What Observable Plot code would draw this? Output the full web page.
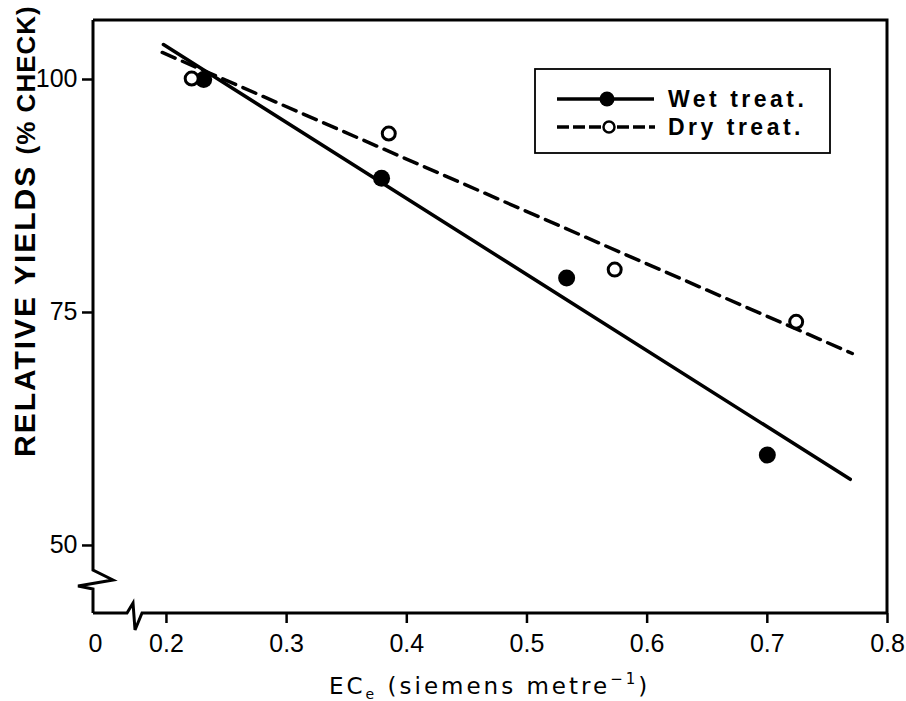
<!DOCTYPE html>
<html><head><meta charset="utf-8">
<script src="https://cdn.jsdelivr.net/npm/d3@7"></script>
<script src="https://cdn.jsdelivr.net/npm/@observablehq/plot@0.6"></script>
<style>body{margin:0;background:#fff}</style>
</head><body><div id="chart"></div>
<script>
// ---- data ----
const wetEC = [0.231, 0.379, 0.533, 0.700];
const wetYield = [100.0, 89.4, 78.7, 59.7];
const dryEC = [0.221, 0.385, 0.573, 0.724];
const dryYield = [100.1, 94.2, 79.6, 74.0];
// fitted regression lines (end points)
const wetFitEC = [0.1975, 0.769];
const wetFitYield = [103.75, 57.1];
const dryFitEC = [0.1965, 0.7707];
const dryFitYield = [102.9, 70.6];
// axes
const xTicks = [0.2, 0.3, 0.4, 0.5, 0.6, 0.7, 0.8];
const yTicks = [50, 75, 100];
const xDomain = [0.1393, 0.8];
const yDomain = [42.7, 106.33];
const xOriginLabel = "0";
const xBreakAt = 0.1726;
const yBreakAt = 46.24;
const legendLabels = ["Wet treat.", "Dry treat."];

const toRows = (xs, ys) => xs.map((x, i) => ({x, y: ys[i]}));
const wet = toRows(wetEC, wetYield);
const dry = toRows(dryEC, dryYield);
const wetFit = toRows(wetFitEC, wetFitYield);
const dryFit = toRows(dryFitEC, dryFitYield);

const FONT = "'Liberation Sans', Arial, Helvetica, sans-serif";
const WIDE = "'DejaVu Sans', Verdana, sans-serif";

function brokenFrame(index, scales, values, dims) {
  const {width, height, marginLeft, marginRight, marginTop, marginBottom} = dims;
  const x0 = marginLeft, x1 = width - marginRight, y0 = marginTop, y1 = height - marginBottom;
  const bx = scales.x(xBreakAt), by = scales.y(yBreakAt);
  const g = d3.create("svg:g").attr("fill", "none").attr("stroke", "black")
    .attr("stroke-width", 3).attr("stroke-linejoin", "miter");
  g.append("path").attr("d", `M${x0},${y0}H${x1}V${y1}`);
  g.append("path").attr("d",
    `M${x0},${y0}V${by - 10}L${x0 + 20},${by}L${x0 - 15},${by + 6}L${x0},${by + 9}V${y1}`);
  g.append("path").attr("d",
    `M${x0},${y1}H${bx - 6}L${bx},${y1 - 10}L${bx + 2},${y1 + 17}L${bx + 9},${y1}H${x1}`);
  return g.node();
}

const chart = Plot.plot({
  width: 906,
  height: 701,
  marginLeft: 93,
  marginRight: 19,
  marginTop: 20,
  marginBottom: 88,
  style: {fontFamily: FONT, fontSize: "25px", background: "#fff", color: "#000"},
  x: {domain: xDomain},
  y: {domain: yDomain},
  marks: [
    Plot.line(wetFit, {x: "x", y: "y", stroke: "black", strokeWidth: 3.5}),
    Plot.line(dryFit, {x: "x", y: "y", stroke: "black", strokeWidth: 3.5, strokeDasharray: "14,8"}),
    Plot.dot(wet, {x: "x", y: "y", r: 8.5, fill: "black", stroke: "none"}),
    Plot.dot(dry, {x: "x", y: "y", r: 6.5, fill: "white", stroke: "black", strokeWidth: 3}),
    Plot.axisX({ticks: xTicks, tickSize: 10, tickPadding: 11, strokeWidth: 2.5,
      tickFormat: d => d.toFixed(1), label: null}),
    Plot.axisY({ticks: yTicks, tickSize: 11, tickPadding: 5, strokeWidth: 2.5,
      tickFormat: d => String(d), label: null}),
    Plot.text([xOriginLabel], {x: () => xDomain[0], text: d => d, frameAnchor: "bottom",
      dy: 21, dx: 2, lineAnchor: "top"}),
    brokenFrame
  ]
});

const svg = d3.select(chart);
svg.selectAll("text").attr("font-size", null);

// y title
const yt = svg.append("text").attr("transform", "translate(35,457) rotate(-90)")
  .attr("text-anchor", "start")
  .attr("font-family", FONT).attr("font-weight", "bold").attr("fill", "black");
yt.append("tspan").attr("font-size", 30).attr("letter-spacing", 2).text("RELATIVE YIELDS ");
yt.append("tspan").attr("font-size", 26).attr("letter-spacing", 1).text("(% CHECK)");

// x title
const xt = svg.append("text").attr("x", 329).attr("y", 694).attr("text-anchor", "start")
  .attr("font-family", WIDE).attr("font-size", 23).attr("letter-spacing", 3).attr("fill", "black");
xt.append("tspan").text("EC");
xt.append("tspan").attr("font-size", 14).attr("dy", 5).text("e");
xt.append("tspan").attr("dy", -5).text(" (siemens metre");
xt.append("tspan").attr("font-size", 15).attr("dy", -10).text("\u22121");
xt.append("tspan").attr("dy", 10).text(")");

// legend
const lg = svg.append("g").attr("font-family", FONT).attr("text-anchor", "start");
lg.append("rect").attr("x", 535).attr("y", 69).attr("width", 295).attr("height", 84)
  .attr("fill", "white").attr("stroke", "black").attr("stroke-width", 1.8);
lg.append("line").attr("x1", 557).attr("x2", 600).attr("y1", 99).attr("y2", 99)
  .attr("stroke", "black").attr("stroke-width", 3.5);
lg.append("line").attr("x1", 614).attr("x2", 654).attr("y1", 99).attr("y2", 99)
  .attr("stroke", "black").attr("stroke-width", 3.5);
lg.append("circle").attr("cx", 607).attr("cy", 99).attr("r", 7.5).attr("fill", "black");
lg.append("line").attr("x1", 557).attr("x2", 601).attr("y1", 127).attr("y2", 127)
  .attr("stroke", "black").attr("stroke-width", 3.5).attr("stroke-dasharray", "12,4");
lg.append("line").attr("x1", 617).attr("x2", 655).attr("y1", 127).attr("y2", 127)
  .attr("stroke", "black").attr("stroke-width", 3.5).attr("stroke-dasharray", "12,4");
lg.append("circle").attr("cx", 609).attr("cy", 127).attr("r", 5.5).attr("fill", "white")
  .attr("stroke", "black").attr("stroke-width", 2.5);
lg.selectAll("text.lab").data(legendLabels).join("text").attr("class", "lab")
  .attr("x", 668).attr("y", (d, i) => 107 + i * 28)
  .attr("font-size", 23).attr("font-weight", "bold").attr("letter-spacing", 3.5)
  .attr("fill", "black").text(d => d);

document.getElementById("chart").appendChild(chart);
</script>
</body></html>
